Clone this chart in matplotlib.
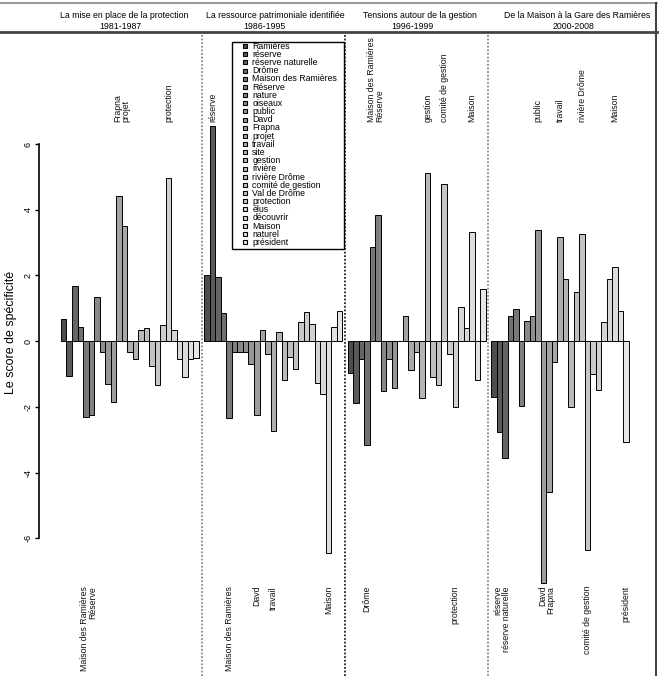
import numpy as np
import matplotlib
matplotlib.use("Agg")
import matplotlib.pyplot as plt
from matplotlib.lines import Line2D
from matplotlib.patches import Rectangle

plt.rcParams['font.family'] = ['Liberation Sans', 'DejaVu Sans']

W, H = 661, 676

# mots (ordre des barres dans chaque période)
words = ["Ramières", "réserve", "réserve naturelle", "Drôme", "Maison des Ramières",
         "Réserve", "nature", "oiseaux", "public", "Davd", "Frapna", "projet",
         "travail", "site", "gestion", "rivière", "rivière Drôme", "comité de gestion",
         "Val de Drôme", "protection", "élus", "découvrir", "Maison", "naturel",
         "président"]

periods = ["La mise en place de la protection", "La ressource patrimoniale identifiée",
           "Tensions autour de la gestion", "De la Maison à la Gare des Ramières"]
years = ["1981-1987", "1986-1995", "1996-1999", "2000-2008"]

scores_p1 = [0.67, -1.06, 1.68, 0.44, -2.32, -2.24, 1.35, -0.32, -1.31, -1.84,
             4.43, 3.50, -0.34, -0.53, 0.33, 0.39, -0.77, -1.33, 0.49, 4.98,
             0.33, -0.55, -1.10, -0.55, -0.52]
scores_p2 = [2.01, 6.55, 1.94, 0.85, -2.33, -0.34, -0.34, -0.34, -0.70, -2.25,
             0.33, -0.39, -2.72, 0.29, -1.19, -0.48, -0.85, 0.59, 0.90, 0.52,
             -1.26, -1.62, -6.45, 0.44, 0.93]
scores_p3 = [-0.96, -1.89, -0.54, -3.16, 2.88, 3.84, -1.53, -0.55, -1.43, 0.02,
             0.78, -0.88, -0.32, -1.74, 5.11, -1.08, -1.33, 4.78, -0.39, -2.01,
             1.03, 0.41, 3.31, -1.18, 1.59]
scores_p4 = [-1.69, -2.75, -3.56, 0.77, 0.97, -1.97, 0.61, 0.77, 3.38, -7.35,
             -4.58, -0.64, 3.16, 1.88, -2.01, 1.49, 3.25, -6.35, -1.00, -1.48,
             0.57, 1.88, 2.27, 0.92, -3.06]
scores = [scores_p1, scores_p2, scores_p3, scores_p4]

top_labels = [["Frapna", "projet", "protection"],
              ["réserve"],
              ["Maison des Ramières", "Réserve", "gestion", "comité de gestion", "Maison"],
              ["public", "travail", "rivière Drôme", "Maison"]]
bottom_labels = [["Maison des Ramières", "Réserve"],
                 ["Maison des Ramières", "Davd", "travail", "Maison"],
                 ["Drôme", "protection"],
                 ["réserve", "réserve naturelle", "Davd", "Frapna",
                  "comité de gestion", "président"]]

# gris façon R gray.colors()
n = len(words)
lev = np.linspace(0.3 ** 2.2, 0.9 ** 2.2, n) ** (1 / 2.2)
colors = [(v, v, v) for v in lev]


def fx(px):
    return px / W


def fy(py):
    return 1 - py / H


def spread(xs, gap=8.0):
    # écarte les étiquettes voisines (barres adjacentes)
    xs = list(xs)
    i = 0
    while i < len(xs) - 1:
        if xs[i + 1] - xs[i] < gap - 0.1:
            m = (xs[i] + xs[i + 1]) / 2
            xs[i], xs[i + 1] = m - gap / 2, m + gap / 2
            i += 2
        else:
            i += 1
    return xs


fig = plt.figure(figsize=(W / 100, H / 100), dpi=100)
ax = fig.add_axes([fx(38.7), 0, fx(656) - fx(38.7), fy(33)])
ax.set_xlim(-4.04, 107.9)
ax.set_ylim(-10.19, 9.38)

step = n + 1
for g, vals in enumerate(scores):
    xs = g * step + np.arange(n)
    ax.bar(xs, vals, width=1, align='edge', color=colors,
           edgecolor='black', linewidth=0.7, zorder=3)
    for labs, ypx, va in [(top_labels[g], 122, 'bottom'),
                          (bottom_labels[g], 586, 'top')]:
        idx = sorted(words.index(w) for w in labs)
        pxs = [ax.transData.transform((xs[i] + 0.5, 0))[0] for i in idx]
        for i, xp in zip(idx, spread(pxs)):
            fig.text(xp / W, fy(ypx), words[i], rotation=90, ha='center',
                     va=va, fontsize=6.3, color='#111111')

# séparateurs entre périodes
sep_cols = ['#8a8a8a', '#222222', '#8a8a8a']
for g in range(1, 4):
    ax.axvline(g * step - 0.5, color=sep_cols[g - 1], linestyle=(0, (1, 1)),
               linewidth=1.3, zorder=1)

# axe y à la R
for s in ['top', 'right', 'bottom']:
    ax.spines[s].set_visible(False)
ax.spines['left'].set_bounds(-6, 6)
ax.spines['left'].set_linewidth(1.2)
ax.set_yticks([-6, -4, -2, 0, 2, 4, 6])
ax.set_yticklabels(["-6", "-4", "-2", "0", "2", "4", "6"], rotation=90,
                   va='center', fontsize=6.5)
ax.tick_params(axis='y', length=3, width=1, pad=1.5)
ax.set_xticks([])
fig.text(fx(11), fy(332), "Le score de spécificité", rotation=90,
         ha='center', va='center', fontsize=8.9)

# en-têtes
line1_x = [123.8, 275, 420, 577.5]
line2_x = [120.8, 264, 412.5, 574]
for g in range(4):
    fig.text(fx(line1_x[g]), fy(15), periods[g], ha='center', va='center',
             fontsize=6.3)
    fig.text(fx(line2_x[g]), fy(26.7), years[g], ha='center', va='center',
             fontsize=6.3)

fig.add_artist(Line2D([0, fx(657)], [fy(3.3), fy(3.3)], color='#888888',
                      linewidth=1.2, transform=fig.transFigure))
fig.add_artist(Line2D([0, fx(657)], [fy(32), fy(32)], color='#444444',
                      linewidth=2, transform=fig.transFigure))
fig.add_artist(Line2D([fx(656), fx(656)], [fy(3.3), 0], color='#444444',
                      linewidth=1.5, transform=fig.transFigure))

# légende
handles = [Line2D([], [], linestyle='None', marker='s', markersize=3.3,
                  markerfacecolor=c, markeredgecolor='black',
                  markeredgewidth=0.8) for c in colors]
leg = fig.legend(handles, words, loc='upper left',
                 bbox_to_anchor=(fx(233), fy(40.5)), bbox_transform=fig.transFigure,
                 fontsize=6.3, frameon=False, borderaxespad=0, borderpad=0.15,
                 labelspacing=-0.095, handlelength=2.45, handleheight=0.5,
                 handletextpad=-0.4)
fig.add_artist(Rectangle((fx(232), fy(249)), fx(344) - fx(232), fy(42) - fy(249),
                         transform=fig.transFigure, fill=False,
                         edgecolor='black', linewidth=1.0))

fig.savefig("out.png", dpi=100)
